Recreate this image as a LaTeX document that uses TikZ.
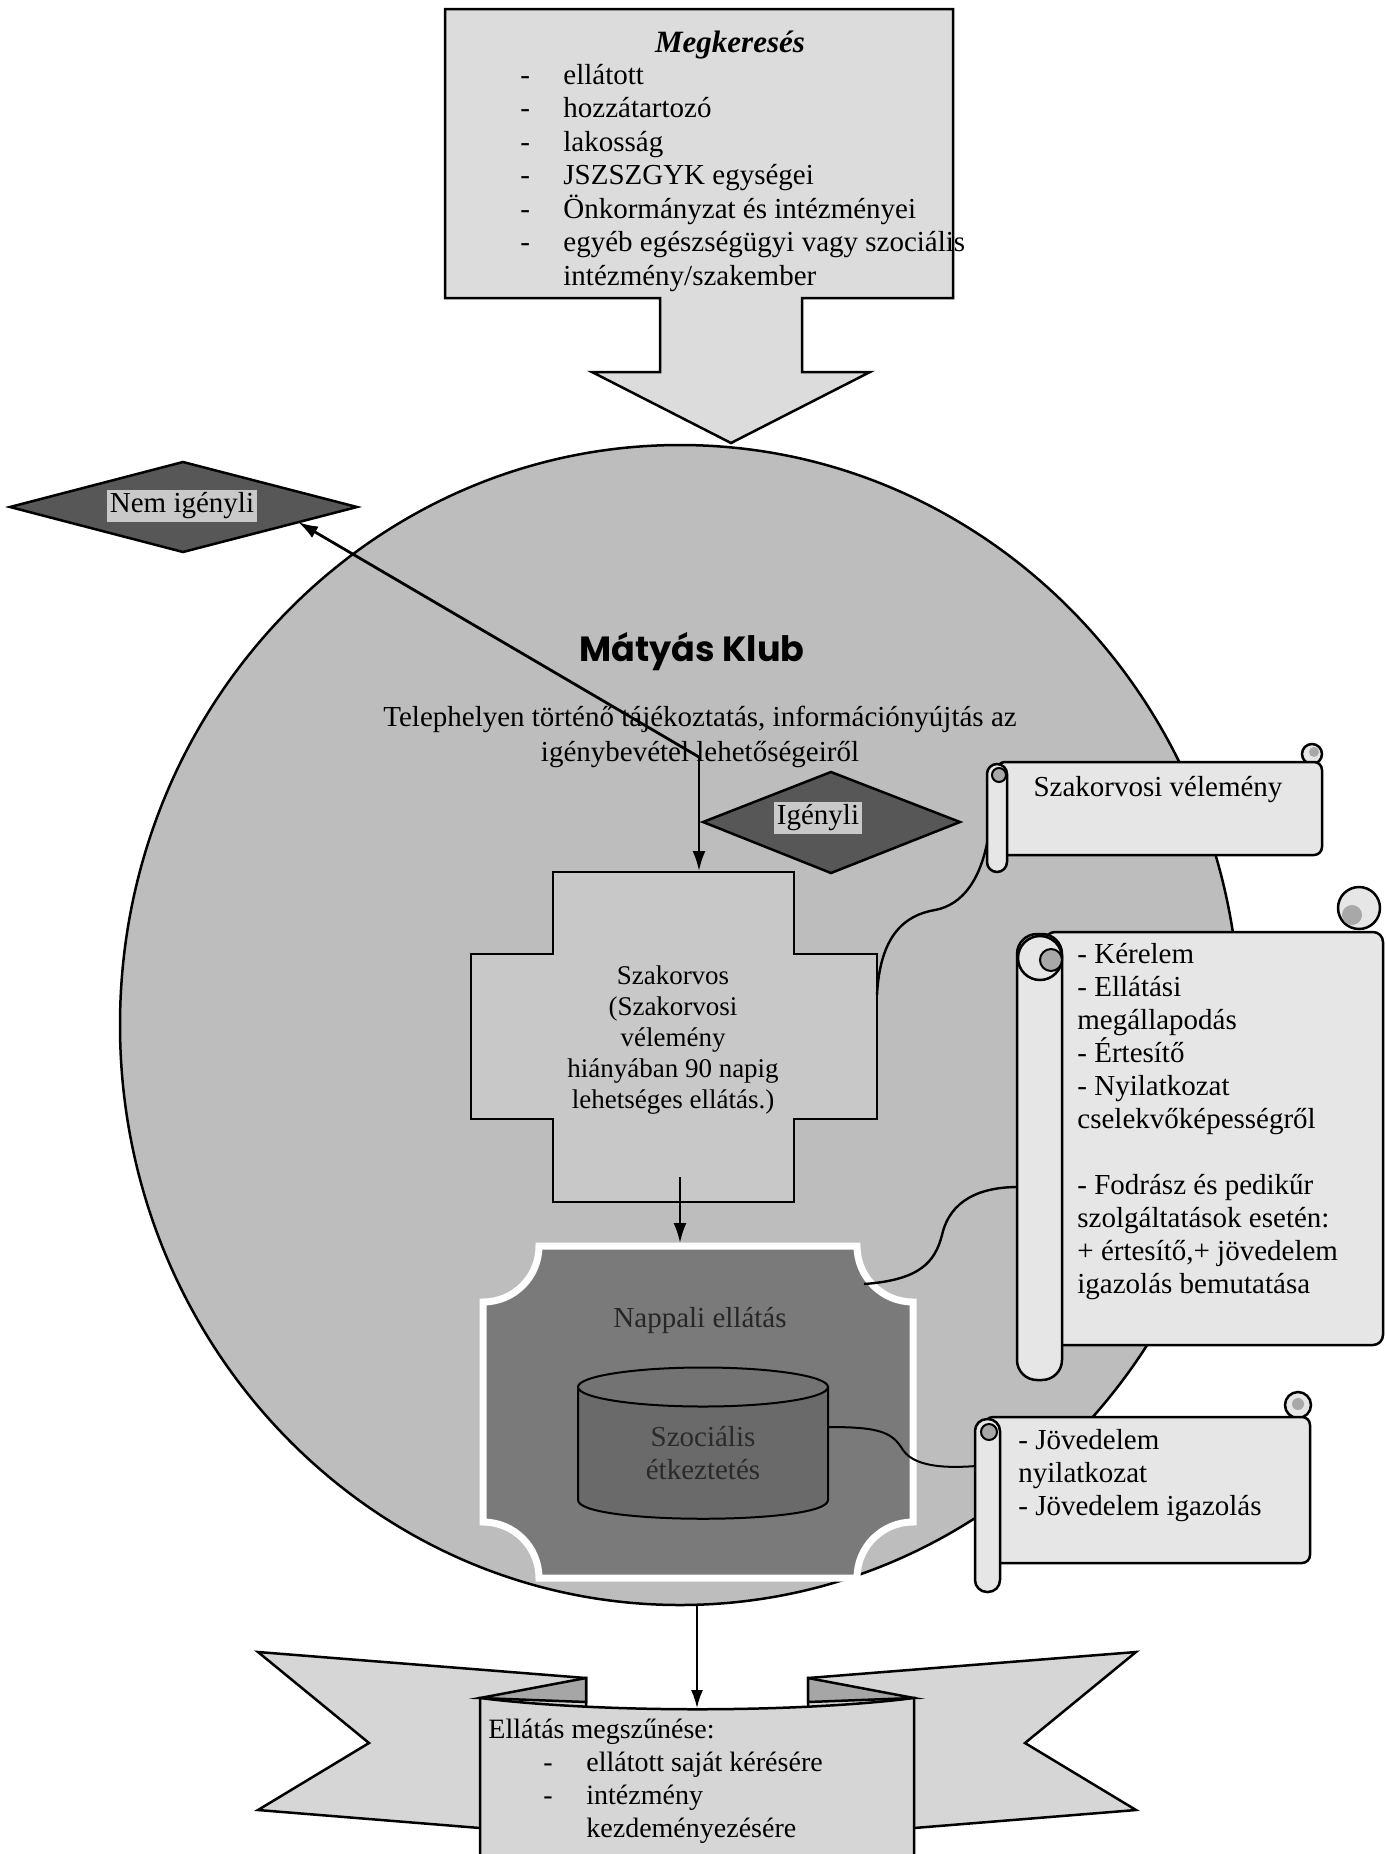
\documentclass[tikz,border=0pt]{standalone}
\usepackage{fontspec}
\setmainfont{Liberation Serif}
\newfontfamily\titlefont{Poppins}
\usetikzlibrary{arrows.meta}
\definecolor{ovalc}{HTML}{BDBDBD}
\definecolor{boxc}{HTML}{DCDCDC}
\definecolor{scrollc}{HTML}{E6E6E6}
\definecolor{curlc}{HTML}{A8A8A8}
\definecolor{diamc}{HTML}{575757}
\definecolor{tagc}{HTML}{C9C9C9}
\definecolor{crossc}{HTML}{C8C8C8}
\definecolor{dayc}{HTML}{7A7A7A}
\definecolor{cylc}{HTML}{6A6A6A}
\definecolor{cyltop}{HTML}{737373}
\definecolor{ribc}{HTML}{D6D6D6}
\definecolor{foldc}{HTML}{A6A6A6}
\definecolor{dimtext}{HTML}{2A2A2A}
\begin{document}
\begin{tikzpicture}[x=0.5pt,y=-0.5pt,
  outline/.style={draw=black,line width=1.25pt},
  conn/.style={draw=black,line width=1.2pt},
  arr/.style={conn,-{Latex[length=10pt,width=6.5pt]}},
  txt/.style={inner sep=0pt,font=\fontsize{14.5}{16.75}\selectfont},
  tag/.style={fill=tagc,inner sep=1.5pt,font=\fontsize{14.5}{16.75}\selectfont},
  curl/.style={draw=black,line width=1pt,fill=curlc},
  ]
\useasboundingbox (0,0) rectangle (1386,1854);
\fill[white] (0,0) rectangle (1386,1854);
\clip (0,0) rectangle (1386,1854);

% big oval
\draw[outline,fill=ovalc] (680,1025) ellipse [x radius=280pt, y radius=290pt];
\coordinate (ovbot) at (697,1604);

% top callout
\draw[outline,fill=boxc] (445,9) -- (953,9) -- (953,298) -- (802,298) -- (802,372) -- (870,372)
  -- (731,443) -- (592,372) -- (660,372) -- (660,298) -- (445,298) -- cycle;
\node[txt,font=\fontsize{15.5}{18}\selectfont\bfseries\itshape] (megk) at (730,45) {Megkeresés};
\node[txt,anchor=west] (megklist) at (520,178) {\begin{tabular}{@{}p{21.5pt}@{}l@{}}
-&ellátott\\
-&hozzátartozó\\
-&lakosság\\
-&JSZSZGYK egységei\\
-&Önkormányzat és intézményei\\
-&egyéb egészségügyi vagy szociális\\
&intézmény/szakember
\end{tabular}};

% title and info
\node[txt,font=\titlefont\bfseries\fontsize{17.5}{20}\selectfont] (title) at (692,652) {Mátyás Klub};
\node[txt,align=center,font=\fontsize{14.5}{17.5}\selectfont] (info) at (700,737)
  {Telephelyen történő tájékoztatás, információnyújtás az\\igénybevétel lehetőségeiről};

% diamonds
\draw[outline,fill=diamc] (10,507) -- (183,462) -- (357,507) -- (183,552) -- cycle;
\node[tag] (nem) at (182,506) {Nem igényli};
\coordinate (nemtip) at (298,522);
\draw[outline,fill=diamc] (703,822) -- (831,772) -- (960,822) -- (831,873) -- cycle;
\node[tag] (igeny) at (818,818) {Igényli};

% cross
\draw[outline,fill=crossc] (553,872) -- (794,872) -- (794,954) -- (877,954) -- (877,1119) -- (794,1119)
  -- (794,1202) -- (553,1202) -- (553,1119) -- (471,1119) -- (471,954) -- (553,954) -- cycle;
\node[txt,align=center,font=\fontsize{13.5}{15.5}\selectfont] (szak) at (673,1040)
  {Szakorvos\\(Szakorvosi\\vélemény\\hiányában 90 napig\\lehetséges ellátás.)};
\coordinate (crosstop) at (699,871);
\coordinate (crossR) at (877,995);
\coordinate (crossbot) at (680,1177);

% flow arrows at top
\coordinate (J) at (699,757);
\draw[arr,line width=1.4pt] (J) -- (nemtip);
\draw[arr] (J) -- (crosstop);

% Nappali
\path[fill=dayc,draw=white,line width=3.5pt] (539,1246) -- (857,1246)
  .. controls (857,1277) and (882,1302) .. (913,1302) -- (913,1522)
  .. controls (882,1522) and (857,1547) .. (857,1578) -- (539,1578)
  .. controls (539,1547) and (514,1522) .. (483,1522) -- (483,1302)
  .. controls (514,1302) and (539,1277) .. (539,1246) -- cycle;
\node[txt,text=black!85] (day) at (700,1320) {Nappali ellátás};
\coordinate (daytop) at (680,1243);
\coordinate (dayR) at (864,1284);
\draw[arr] (crossbot) -- (daytop);

% cylinder
\draw[draw=black,line width=1pt,fill=cylc] (578,1387) -- (578,1500) .. controls (578,1525) and (828,1525) .. (828,1500) -- (828,1387) -- cycle;
\draw[draw=black,line width=1pt,fill=cyltop] (703,1387) ellipse [x radius=62.5pt,y radius=9.75pt];
\node[txt,align=center,text=dimtext] (soc) at (703,1453) {Szociális\\étkeztetés};
\coordinate (cylR) at (828,1427);

% connectors to scrolls
\coordinate (s1in) at (989,832);
\coordinate (s2in) at (1018,1187);
\coordinate (s3in) at (976,1466);
\draw[conn] (crossR) .. controls (880,935) and (905,915) .. (935,910) .. controls (962,905) and (982,880) .. (s1in);
\draw[conn] (dayR) .. controls (920,1280) and (935,1262) .. (942,1235) .. controls (950,1200) and (980,1187) .. (s2in);
\draw[conn,line width=1pt] (cylR) .. controls (880,1427) and (892,1432) .. (903,1450) .. controls (915,1468) and (950,1468) .. (s3in);

% scroll 1
\draw[outline,fill=scrollc] (1312,754) circle[radius=5pt];
\draw[outline,fill=scrollc,rounded corners=4pt] (997,762) rectangle (1322,855);
\fill[curlc] (1314,752) circle[radius=2.5pt];
\draw[outline,fill=scrollc,rounded corners=5pt] (987,764) rectangle (1007,872);
\draw[curl] (999,775) circle[radius=3.5pt];
\node[txt] (opin) at (1158,790) {Szakorvosi vélemény};

% scroll 2
\draw[outline,fill=scrollc] (1359,908) circle[radius=10.5pt];
\draw[outline,fill=scrollc,rounded corners=5pt] (1045,932) rectangle (1383,1345);
\fill[curlc] (1352,915) circle[radius=5pt];
\draw[outline,fill=scrollc,rounded corners=10pt] (1017,934) rectangle (1062,1380);
\draw[outline,fill=scrollc] (1040,958) circle[radius=11pt];
\draw[curl] (1051,960) circle[radius=5.5pt];
\node[txt,anchor=west,align=left,font=\fontsize{14.5}{16.5}\selectfont] (docs) at (1077,1122)
  {- Kérelem\\- Ellátási\\megállapodás\\- Értesítő\\- Nyilatkozat\\cselekvőképességről\\[16.5pt]- Fodrász és pedikűr\\szolgáltatások esetén:\\+ értesítő,+ jövedelem\\igazolás bemutatása};

% scroll 3
\draw[outline,fill=scrollc] (1298,1405) circle[radius=6.5pt];
\draw[outline,fill=scrollc,rounded corners=4pt] (985,1417) rectangle (1310,1563);
\fill[curlc] (1298,1404) circle[radius=3pt];
\draw[outline,fill=scrollc,rounded corners=6pt] (975,1419) rectangle (1000,1592);
\draw[curl] (989,1432) circle[radius=4pt];
\node[txt,anchor=west,align=left,font=\fontsize{14.5}{16.5}\selectfont] (inc) at (1018,1476)
  {- Jövedelem\\nyilatkozat\\- Jövedelem igazolás};

% ribbon
\draw[outline,fill=ribc] (258,1652) -- (586,1678) -- (586,1835) -- (480,1828) -- (258,1810) -- (369,1743) -- cycle;
\draw[outline,fill=ribc] (1136,1652) -- (808,1678) -- (808,1835) -- (914,1828) -- (1136,1810) -- (1025,1743) -- cycle;
\draw[outline,fill=foldc] (480,1698) -- (586,1678) -- (586,1702) -- cycle;
\draw[outline,fill=foldc] (914,1698) -- (808,1678) -- (808,1702) -- cycle;
\draw[outline,fill=ribc] (480,1698) .. controls (600,1713) and (795,1713) .. (914,1698) -- (914,1880) -- (480,1880) -- cycle;
\coordinate (ribtop) at (697,1708);
\draw[conn,line width=0.9pt,-{Latex[length=9pt,width=6pt]}] (ovbot) -- (ribtop);
\node[txt,anchor=west,font=\fontsize{14}{16.5}\selectfont] (ending) at (488,1781)
  {\begin{tabular}{@{}p{27.5pt}@{}p{21.5pt}@{}l@{}}
  \multicolumn{3}{@{}l@{}}{Ellátás megszűnése:}\\
  &-&ellátott saját kérésére\\
  &-&intézmény\\
  &&kezdeményezésére
  \end{tabular}};
\end{tikzpicture}
\end{document}
